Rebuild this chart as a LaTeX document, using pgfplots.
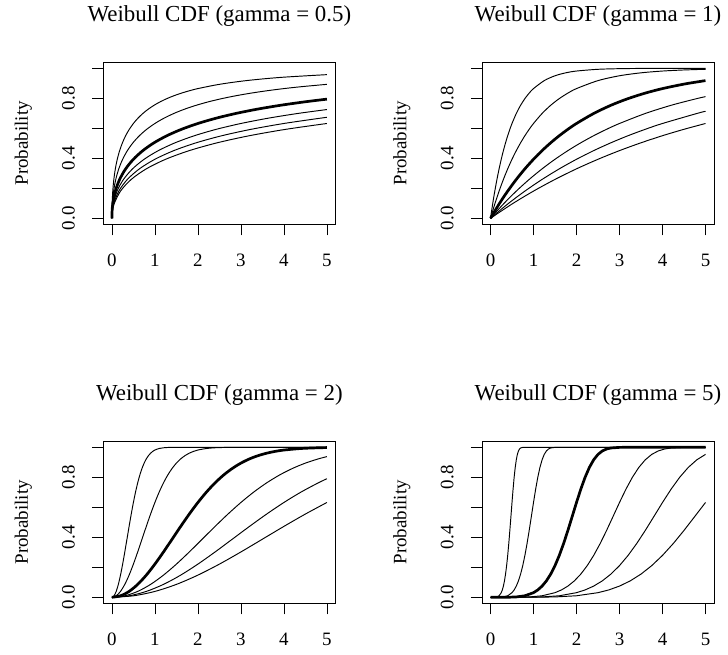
\documentclass[border=0pt]{standalone}
\usepackage{fontspec}
\setmainfont{Liberation Serif}
\usepackage{pgfplots}
\pgfplotsset{compat=1.18}
\pgfplotsset{
  wb/.style={
    scale only axis, width=232.2bp, height=162bp,
    xmin=-0.2, xmax=5.2, ymin=-0.04, ymax=1.04,
    xtick={0,1,2,3,4,5}, xticklabels={0,1,2,3,4,5},
    ytick={0,0.2,0.4,0.6,0.8,1}, yticklabels={0.0,,0.4,,0.8,},
    tick align=outside, tick pos=left,
    major tick length=11bp,
    tick style={black, line width=0.8bp},
    axis line style={black, line width=0.8bp},
    /pgf/number format/assume math mode=true,
    tick label style={font=\fontsize{19}{22}\selectfont},
    xticklabel style={anchor=center},
    yticklabel style={anchor=center, rotate=90},
    xticklabel shift=25bp,
    yticklabel shift=23.8bp,
    ylabel={Probability},
    every axis y label/.style={at={(axis description cs:-0.3445,0.5)}, rotate=90, anchor=center, font=\fontsize{19}{22}\selectfont},
    every axis title/.style={at={(axis description cs:0.5,1)}, anchor=base, yshift=40.6bp, font=\fontsize{23}{27}\selectfont},
    thin/.style={black, line width=0.95bp, smooth, no markers},
    bold/.style={black, line width=2.7bp, smooth, no markers},
    thinS/.style={black, line width=0.95bp, sharp plot, no markers, line join=round},
    boldS/.style={black, line width=2.7bp, sharp plot, no markers, line join=round},
  }
}
\begin{document}
\begin{tikzpicture}
\useasboundingbox (0bp,0bp) rectangle (728bp,655bp);
% ---------------- gamma = 0.5
\begin{axis}[wb, at={(103.3bp,430.7bp)}, anchor=south west, title={Weibull CDF (gamma = 0.5)}]
\addplot[thin] coordinates {(0,0)(0.00125,0.0488)(0.005,0.0952)(0.02,0.1813)(0.045,0.2592)(0.08,0.3297)(0.125,0.3935)(0.18,0.4512)(0.245,0.5034)(0.32,0.5507)(0.405,0.5934)(0.5,0.6321)(0.605,0.6671)(0.72,0.6988)(0.845,0.7275)(0.98,0.7534)(1.125,0.7769)(1.28,0.7981)(1.445,0.8173)(1.62,0.8347)(1.805,0.8504)(2,0.8647)(2.5,0.8931)(3.125,0.9179)(3.92,0.9392)(5,0.9577)};
\addplot[thin] coordinates {(0,0)(0.0025,0.0488)(0.01,0.0952)(0.04,0.1813)(0.09,0.2592)(0.16,0.3297)(0.25,0.3935)(0.36,0.4512)(0.49,0.5034)(0.64,0.5507)(0.81,0.5934)(1,0.6321)(1.21,0.6671)(1.44,0.6988)(1.69,0.7275)(1.96,0.7534)(2.25,0.7769)(2.56,0.7981)(2.89,0.8173)(3.24,0.8347)(3.61,0.8504)(4,0.8647)(4.41,0.8775)(5,0.8931)};
\addplot[bold] coordinates {(0,0)(0.005,0.0488)(0.02,0.0952)(0.08,0.1813)(0.18,0.2592)(0.32,0.3297)(0.5,0.3935)(0.72,0.4512)(0.98,0.5034)(1.28,0.5507)(1.62,0.5934)(2,0.6321)(2.42,0.6671)(2.88,0.6988)(3.38,0.7275)(3.92,0.7534)(4.5,0.7769)(5,0.7943)};
\addplot[thin] coordinates {(0,0)(0.0075,0.0488)(0.03,0.0952)(0.12,0.1813)(0.27,0.2592)(0.48,0.3297)(0.75,0.3935)(1.08,0.4512)(1.47,0.5034)(1.92,0.5507)(2.43,0.5934)(3,0.6321)(3.63,0.6671)(4.32,0.6988)(5,0.7250)};
\addplot[thin] coordinates {(0,0)(0.01,0.0488)(0.04,0.0952)(0.16,0.1813)(0.36,0.2592)(0.64,0.3297)(1,0.3935)(1.44,0.4512)(1.96,0.5034)(2.56,0.5507)(3.24,0.5934)(4,0.6321)(4.84,0.6671)(5,0.6731)};
\addplot[thin] coordinates {(0,0)(0.0125,0.0488)(0.05,0.0952)(0.2,0.1813)(0.45,0.2592)(0.8,0.3297)(1.25,0.3935)(1.8,0.4512)(2.45,0.5034)(3.2,0.5507)(4.05,0.5934)(5,0.6321)};
\end{axis}
% ---------------- gamma = 1
\begin{axis}[wb, at={(481.9bp,430.7bp)}, anchor=south west, title={Weibull CDF (gamma = 1)}]
\addplot[thin] coordinates {(0,0)(0.05,0.0952)(0.1,0.1813)(0.15,0.2592)(0.2,0.3297)(0.25,0.3935)(0.3,0.4512)(0.35,0.5034)(0.4,0.5507)(0.45,0.5934)(0.5,0.6321)(0.6,0.6988)(0.7,0.7534)(0.8,0.7981)(0.9,0.8347)(1,0.8647)(1.25,0.9179)(1.5,0.9502)(1.75,0.9698)(2,0.9817)(2.5,0.9933)(3,0.9975)(3.5,0.9991)(4,0.9997)(4.5,0.9999)(5,1)};
\addplot[thin] coordinates {(0,0)(0.1,0.0952)(0.2,0.1813)(0.3,0.2592)(0.4,0.3297)(0.5,0.3935)(0.6,0.4512)(0.7,0.5034)(0.8,0.5507)(0.9,0.5934)(1,0.6321)(1.2,0.6988)(1.4,0.7534)(1.6,0.7981)(1.8,0.8347)(2,0.8647)(2.5,0.9179)(3,0.9502)(3.5,0.9698)(4,0.9817)(4.5,0.9889)(5,0.9933)};
\addplot[bold] coordinates {(0,0)(0.2,0.0952)(0.4,0.1813)(0.6,0.2592)(0.8,0.3297)(1,0.3935)(1.2,0.4512)(1.4,0.5034)(1.6,0.5507)(1.8,0.5934)(2,0.6321)(2.4,0.6988)(2.8,0.7534)(3.2,0.7981)(3.6,0.8347)(4,0.8647)(4.5,0.8946)(5,0.9179)};
\addplot[thin] coordinates {(0,0)(0.3,0.0952)(0.6,0.1813)(0.9,0.2592)(1.2,0.3297)(1.5,0.3935)(1.8,0.4512)(2.1,0.5034)(2.4,0.5507)(2.7,0.5934)(3,0.6321)(3.6,0.6988)(4.2,0.7534)(4.8,0.7981)(5,0.8111)};
\addplot[thin] coordinates {(0,0)(0.4,0.0952)(0.8,0.1813)(1.2,0.2592)(1.6,0.3297)(2,0.3935)(2.4,0.4512)(2.8,0.5034)(3.2,0.5507)(3.6,0.5934)(4,0.6321)(4.8,0.6988)(5,0.7135)};
\addplot[thin] coordinates {(0,0)(0.5,0.0952)(1,0.1813)(1.5,0.2592)(2,0.3297)(2.5,0.3935)(3,0.4512)(3.5,0.5034)(4,0.5507)(4.5,0.5934)(5,0.6321)};
\end{axis}
% ---------------- gamma = 2
\begin{axis}[wb, at={(103.3bp,51.7bp)}, anchor=south west, title={Weibull CDF (gamma = 2)}]
\addplot[thin] coordinates {(0,0)(0.05,0.0100)(0.1,0.0392)(0.15,0.0861)(0.2,0.1479)(0.25,0.2212)(0.3,0.3023)(0.35,0.3874)(0.4,0.4727)(0.45,0.5551)(0.5,0.6321)(0.55,0.7018)(0.6,0.7631)(0.65,0.8155)(0.7,0.8591)(0.75,0.8946)(0.8,0.9227)(0.85,0.9444)(0.9,0.9608)(0.95,0.9729)(1,0.9817)(1.1,0.9921)(1.2,0.9968)(1.3,0.9988)(1.5,0.9999)(1.7,1)(2,1)(2.5,1)(3,1)(4,1)(5,1)};
\addplot[thin] coordinates {(0,0)(0.1,0.0100)(0.2,0.0392)(0.3,0.0861)(0.4,0.1479)(0.5,0.2212)(0.6,0.3023)(0.7,0.3874)(0.8,0.4727)(0.9,0.5551)(1,0.6321)(1.1,0.7018)(1.2,0.7631)(1.3,0.8155)(1.4,0.8591)(1.5,0.8946)(1.6,0.9227)(1.7,0.9444)(1.8,0.9608)(1.9,0.9729)(2,0.9817)(2.2,0.9921)(2.4,0.9968)(2.6,0.9988)(3,0.9999)(3.5,1)(4,1)(5,1)};
\addplot[bold] coordinates {(0,0)(0.2,0.0100)(0.4,0.0392)(0.6,0.0861)(0.8,0.1479)(1,0.2212)(1.2,0.3023)(1.4,0.3874)(1.6,0.4727)(1.8,0.5551)(2,0.6321)(2.2,0.7018)(2.4,0.7631)(2.6,0.8155)(2.8,0.8591)(3,0.8946)(3.2,0.9227)(3.4,0.9444)(3.6,0.9608)(3.8,0.9729)(4,0.9817)(4.4,0.9921)(4.8,0.9968)(5,0.9981)};
\addplot[thin] coordinates {(0,0)(0.3,0.0100)(0.6,0.0392)(0.9,0.0861)(1.2,0.1479)(1.5,0.2212)(1.8,0.3023)(2.1,0.3874)(2.4,0.4727)(2.7,0.5551)(3,0.6321)(3.3,0.7018)(3.6,0.7631)(3.9,0.8155)(4.2,0.8591)(4.5,0.8946)(4.8,0.9227)(5,0.9378)};
\addplot[thin] coordinates {(0,0)(0.4,0.0100)(0.8,0.0392)(1.2,0.0861)(1.6,0.1479)(2,0.2212)(2.4,0.3023)(2.8,0.3874)(3.2,0.4727)(3.6,0.5551)(4,0.6321)(4.4,0.7018)(4.8,0.7631)(5,0.7904)};
\addplot[thin] coordinates {(0,0)(0.5,0.0100)(1,0.0392)(1.5,0.0861)(2,0.1479)(2.5,0.2212)(3,0.3023)(3.5,0.3874)(4,0.4727)(4.5,0.5551)(5,0.6321)};
\end{axis}
% ---------------- gamma = 5
\begin{axis}[wb, at={(481.9bp,51.7bp)}, anchor=south west, title={Weibull CDF (gamma = 5)}]
\addplot[thinS] coordinates {(0,0)(0.1,0.0003)(0.15,0.0024)(0.2,0.0102)(0.25,0.0308)(0.275,0.0491)(0.3,0.0748)(0.325,0.1095)(0.35,0.1547)(0.375,0.2112)(0.4,0.2794)(0.425,0.3583)(0.45,0.4459)(0.475,0.5387)(0.5,0.6321)(0.525,0.7209)(0.55,0.8002)(0.575,0.8662)(0.6,0.9170)(0.625,0.9527)(0.65,0.9756)(0.675,0.9887)(0.7,0.9954)(0.75,0.9995)(0.8,1)(5,1)};
\addplot[thinS] coordinates {(0,0)(0.2,0.0003)(0.3,0.0024)(0.4,0.0102)(0.5,0.0308)(0.55,0.0491)(0.6,0.0748)(0.65,0.1095)(0.7,0.1547)(0.75,0.2112)(0.8,0.2794)(0.85,0.3583)(0.9,0.4459)(0.95,0.5387)(1,0.6321)(1.05,0.7209)(1.1,0.8002)(1.15,0.8662)(1.2,0.9170)(1.25,0.9527)(1.3,0.9756)(1.35,0.9887)(1.4,0.9954)(1.5,0.9995)(1.6,1)(5,1)};
\addplot[boldS] coordinates {(0,0)(0.4,0.0003)(0.6,0.0024)(0.8,0.0102)(1,0.0308)(1.1,0.0491)(1.2,0.0748)(1.3,0.1095)(1.4,0.1547)(1.5,0.2112)(1.6,0.2794)(1.7,0.3583)(1.8,0.4459)(1.9,0.5387)(2,0.6321)(2.1,0.7209)(2.2,0.8002)(2.3,0.8662)(2.4,0.9170)(2.5,0.9527)(2.6,0.9756)(2.7,0.9887)(2.8,0.9954)(3,0.9995)(3.2,1)(5,1)};
\addplot[thinS] coordinates {(0,0)(0.6,0.0003)(0.9,0.0024)(1.2,0.0102)(1.5,0.0308)(1.65,0.0491)(1.8,0.0748)(1.95,0.1095)(2.1,0.1547)(2.25,0.2112)(2.4,0.2794)(2.55,0.3583)(2.7,0.4459)(2.85,0.5387)(3,0.6321)(3.15,0.7209)(3.3,0.8002)(3.45,0.8662)(3.6,0.9170)(3.75,0.9527)(3.9,0.9756)(4.05,0.9887)(4.2,0.9954)(4.5,0.9995)(4.8,1)(5,1)};
\addplot[thinS] coordinates {(0,0)(0.8,0.0003)(1.2,0.0024)(1.6,0.0102)(2,0.0308)(2.2,0.0491)(2.4,0.0748)(2.6,0.1095)(2.8,0.1547)(3,0.2112)(3.2,0.2794)(3.4,0.3583)(3.6,0.4459)(3.8,0.5387)(4,0.6321)(4.2,0.7209)(4.4,0.8002)(4.6,0.8662)(4.8,0.9170)(5,0.9527)};
\addplot[thinS] coordinates {(0,0)(1,0.0003)(1.5,0.0024)(2,0.0102)(2.5,0.0308)(2.75,0.0491)(3,0.0748)(3.25,0.1095)(3.5,0.1547)(3.75,0.2112)(4,0.2794)(4.25,0.3583)(4.5,0.4459)(4.75,0.5387)(5,0.6321)};
\end{axis}
\end{tikzpicture}
\end{document}
